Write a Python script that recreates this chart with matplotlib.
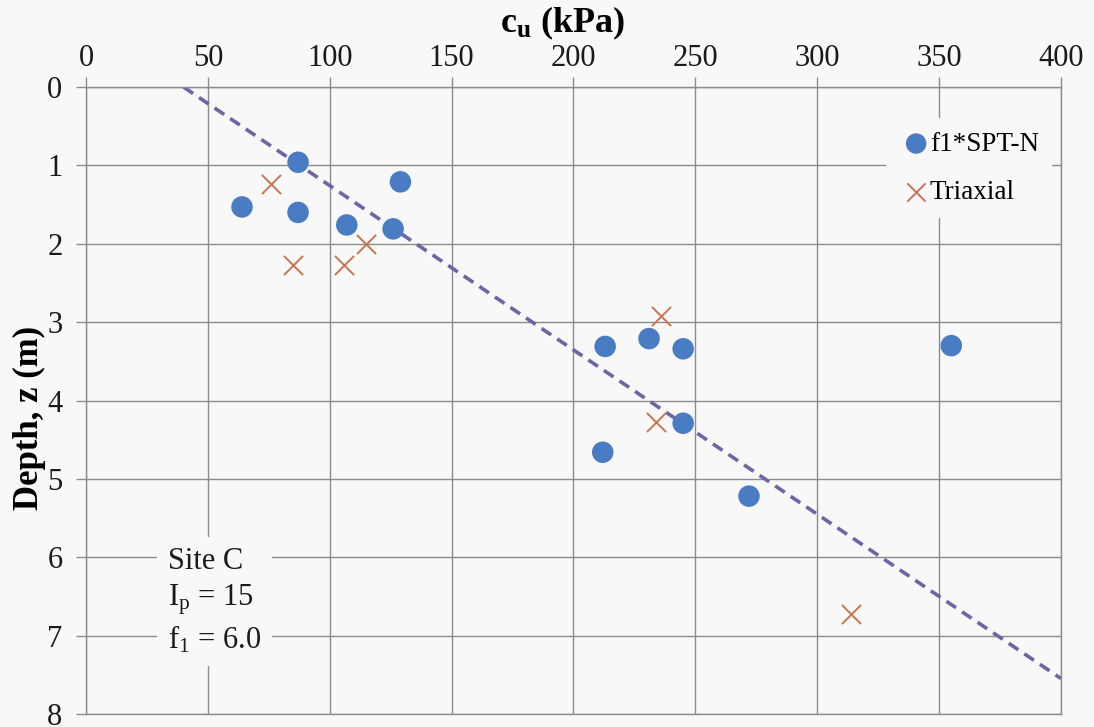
import numpy as np
import matplotlib
matplotlib.use("Agg")
import matplotlib.pyplot as plt

# Undrained shear strength vs depth, Site C
spt_cu = [87, 64, 87, 107, 129, 126, 213, 231, 245, 355, 245, 212, 272]
spt_z = [0.96, 1.53, 1.60, 1.76, 1.21, 1.81, 3.31, 3.21, 3.34, 3.30, 4.29, 4.66, 5.22]

tri_cu = [76, 85, 106, 115, 236, 234, 314]
tri_z = [1.24, 2.27, 2.27, 2.00, 2.92, 4.27, 6.73]

# Design line cu = a + b*z
line_a = 40.0
line_b = 47.7
line_z = [0.0, (400 - line_a) / line_b]

x_ticks = [0, 50, 100, 150, 200, 250, 300, 350, 400]
y_ticks = [0, 1, 2, 3, 4, 5, 6, 7, 8]

BG = "#f8f8f8"
GRID = "#8c8c8c"

plt.rcParams["font.family"] = ["Liberation Serif", "DejaVu Serif"]
plt.rcParams["mathtext.fontset"] = "custom"
plt.rcParams["mathtext.rm"] = "Liberation Serif"
plt.rcParams["mathtext.it"] = "Liberation Serif:italic"
plt.rcParams["mathtext.bf"] = "Liberation Serif:bold"

fig = plt.figure(figsize=(10.94, 7.27), dpi=100, facecolor=BG)
ax = fig.add_axes([0.0786, 0.0179, 0.8912, 0.8624], facecolor=BG)

ax.set_xlim(0, 400)
ax.set_ylim(8, 0)
ax.set_xticks(x_ticks)
ax.set_yticks(y_ticks)
ax.xaxis.tick_top()
ax.xaxis.set_label_position("top")
ax.grid(True, color=GRID, linewidth=1.0, zorder=0)
ax.set_axisbelow(True)
for s in ax.spines.values():
    s.set_color(GRID)
    s.set_linewidth(1.0)
ax.tick_params(axis="both", colors=GRID, labelcolor="#1a1a1a", labelsize=22,
               length=7, width=1.0)
ax.tick_params(axis="x", pad=3)
ax.tick_params(axis="y", pad=10)

ax.set_xlabel(r"$\mathbf{c_u}$ (kPa)", fontsize=26, fontweight="bold")
ax.xaxis.set_label_coords(0.489, 1.088)
ax.set_ylabel("Depth, z (m)", fontsize=25, fontweight="bold")
ax.yaxis.set_label_coords(-0.041, 0.472)

ax.plot([line_a + line_b * z for z in line_z], line_z, color="#6f64a6",
        linewidth=2.6, linestyle=(0, (3.2, 2.0)), zorder=2)

ax.scatter(spt_cu, spt_z, s=240, color="#4a7cc4", edgecolors="none",
           zorder=3, label="f1*SPT-N")
ax.scatter(tri_cu, tri_z, s=190, marker="x", color="#c97552",
           linewidths=1.4, zorder=3, label="Triaxial")

leg = ax.legend(loc="upper left", bbox_to_anchor=(0.807, 0.972),
                fontsize=19.5, frameon=True, facecolor=BG, edgecolor="none",
                framealpha=1.0, handletextpad=-0.1, handlelength=1.2,
                labelspacing=0.85, borderpad=0.5, scatterpoints=1,
                markerscale=0.95)
leg.get_frame().set_boxstyle("square", pad=0.0)

ax.text(0.084, 0.266, "Site C\nI$_\\mathregular{p}$ = 15\nf$_\\mathregular{1}$ = 6.0",
        transform=ax.transAxes, fontsize=22, va="top", ha="left",
        linespacing=1.28, color="#1a1a1a", zorder=4,
        bbox=dict(boxstyle="square,pad=0.35", facecolor=BG, edgecolor="none"))

fig.savefig("out.png", dpi=100, facecolor=BG)
